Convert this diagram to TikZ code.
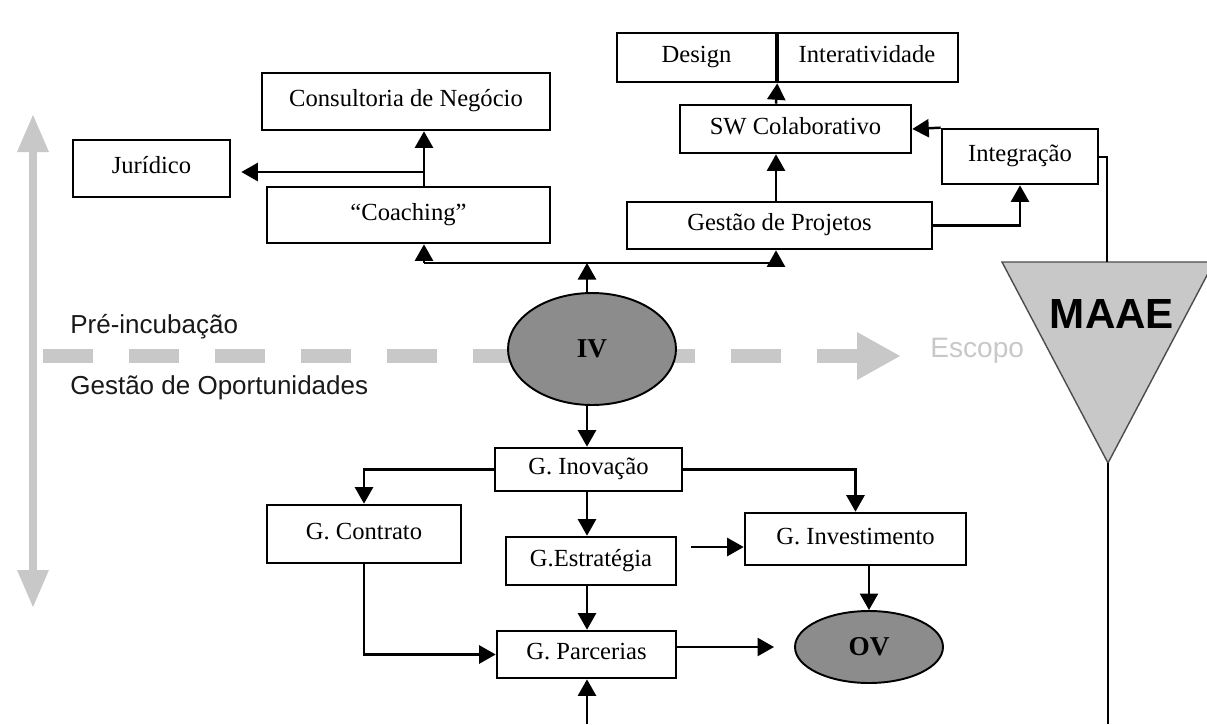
\documentclass[tikz,border=0pt]{standalone}
\usepackage{fontspec}
\setmainfont{Liberation Serif}
\newfontfamily\labelsans{Liberation Sans}
\usetikzlibrary{calc,positioning,shapes,arrows.meta}
\definecolor{lightgrey}{HTML}{C8C8C8}
\definecolor{ovalgrey}{HTML}{8C8C8C}
\tikzset{
	block/.style={draw,rectangle,line width=1.5pt,inner sep=0pt,
		text height=0.68em,text depth=0.1em,
		font=\fontsize{14}{16}\selectfont},
	oval/.style={draw,ellipse,fill=ovalgrey,line width=1.1pt,inner sep=0pt,
		font=\fontsize{15.5}{17}\selectfont\bfseries},
	wire/.style={line width=1.4pt},
	link/.style={wire,-{Triangle[width=0.36cm,length=0.33cm]}}
}

\begin{document}
\begin{tikzpicture}[x=0.02cm,y=-0.02cm,node distance=-\pgflinewidth]
\useasboundingbox (0,0) rectangle (1207,724);

% grey arrows behind everything
\draw[lightgrey,line width=0.18cm] (33,150) -- (33,572);
\fill[lightgrey] (17,152) -- (33,115) -- (49,152) -- cycle;
\fill[lightgrey] (17,570) -- (33,607) -- (49,570) -- cycle;
\draw[lightgrey,line width=0.28cm,dash pattern=on 1cm off 0.72cm] (43,356) -- (857,356);
\fill[lightgrey] (857,332) -- (900,356) -- (857,380) -- cycle;

\node[anchor=base west,inner sep=0pt,font=\labelsans\fontsize{14.8}{16}\selectfont,text=black!90] (pre) at (70,333) {Pré-incubação};
\node[anchor=base west,inner sep=0pt,font=\labelsans\fontsize{14.8}{16}\selectfont,text=black!90] (oport) at (70,394) {Gestão de Oportunidades};
\node[anchor=base west,inner sep=0pt,font=\labelsans\fontsize{16}{18}\selectfont,text=lightgrey] (escopo) at (930,357) {Escopo};

% MAAE
\filldraw[fill=lightgrey,draw=black!70,line width=0.8pt] (1002,262) -- (1214,262) -- (1108,463) -- cycle;
\node[font=\labelsans\bfseries\fontsize{24}{26}\selectfont] (maae) at (1112,314) {MAAE};
\coordinate (maaetop) at (1107,262);
\coordinate (maaetip) at (1108,463);
\coordinate (maaeend) at (1108,724);

% upper part
\node[block,minimum width=5.76cm,minimum height=1.14cm] (consult) at (406,101.5) {Consultoria de Negócio};
\node[block,minimum width=3.14cm,minimum height=1.14cm] (jurid) at (151.5,168.5) {Jurídico};
\node[block,minimum width=5.66cm,minimum height=1.12cm] (coach) at (408.5,215) {“Coaching”};
\node[block,minimum width=3.18cm,minimum height=0.98cm] (design) at (696.5,57.5) {Design};
\node[block,minimum width=3.64cm,minimum height=0.98cm,right=of design] (interat) {Interatividade};
\node[block,minimum width=4.62cm,minimum height=0.96cm] (sw) at (795.5,129) {SW Colaborativo};
\node[block,minimum width=3.12cm,minimum height=1.1cm] (integ) at (1020,156.5) {Integração};
\node[block,minimum width=6.1cm,minimum height=0.94cm] (gp) at (779.5,225.5) {Gestão de Projetos};

\node[oval,minimum width=3.36cm,minimum height=2.24cm] (iv) at (592,349) {IV};

% lower part
\node[block,minimum width=3.74cm,minimum height=0.86cm] (ginov) at (588.5,469.5) {G. Inovação};
\node[block,minimum width=3.88cm,minimum height=1.16cm] (gcont) at (364,534) {G. Contrato};
\node[block,minimum width=3.4cm,minimum height=0.96cm] (gestr) at (591,561) {G.Estratégia};
\node[block,minimum width=4.42cm,minimum height=1.04cm] (ginv) at (855.5,539) {G. Investimento};
\node[block,minimum width=3.58cm,minimum height=0.94cm] (gparc) at (586.5,654.5) {G. Parcerias};
\node[oval,minimum width=2.96cm,minimum height=1.44cm] (ov) at (869,647) {OV};

\coordinate (bus) at (0,263);
\coordinate (colL) at (424,0);
\coordinate (colM) at (587,0);
\coordinate (colR) at (776,0);
\coordinate (jfork) at (424,172);
\coordinate (integout) at (1107,157);
\coordinate (bottom) at (587,724);

\draw[link] (iv.north -| colM) -- (colM |- bus);
\draw[wire] (colL |- bus) -- (colR |- bus);
\draw[link] (colL |- bus) -- (coach.south -| colL);
\draw[link] (colR |- bus) -- (gp.south -| colR);
\draw[link] (coach.north -| colL) -- (consult.south -| colL);
\draw[link,shorten >=0.2cm] (jfork) -- (jfork -| jurid.east);
\draw[link] (gp.north -| colR) -- (sw.south -| colR);
\draw[link] (sw.north -| colR) -- (design.south east);
\draw[line width=1.8pt] (design.south east) -- (design.north east);
\draw[link] (gp.east) -| (integ.south);
\draw[link] (integ.north west) -- (sw.east);
\draw[wire] (integ.east |- integout) -- (integout) -- (integout |- maaetop);
\draw[wire] (maaetip) -- (maaeend);

\draw[link] (iv.south -| colM) -- (ginov.north -| colM);
\draw[link] (ginov.west) -| (gcont.north);
\draw[link] (ginov.east) -| (ginv.north);
\draw[link] (ginov.south -| colM) -- (gestr.north -| colM);
\draw[link] ($(gestr.east)+(14,-14)$) -- ($(ginv.west)+(0,8)$);
\draw[link] (gestr.south -| colM) -- (gparc.north -| colM);
\draw[link] (gcont.south) |- (gparc.west);
\draw[link,shorten >=0.4cm] (gparc.east |- ov.west) -- (ov.west);
\draw[link] (ginv.south -| ov.north) -- (ov.north);
\draw[link] (bottom) -- (gparc.south -| colM);

\end{tikzpicture}
\end{document}
